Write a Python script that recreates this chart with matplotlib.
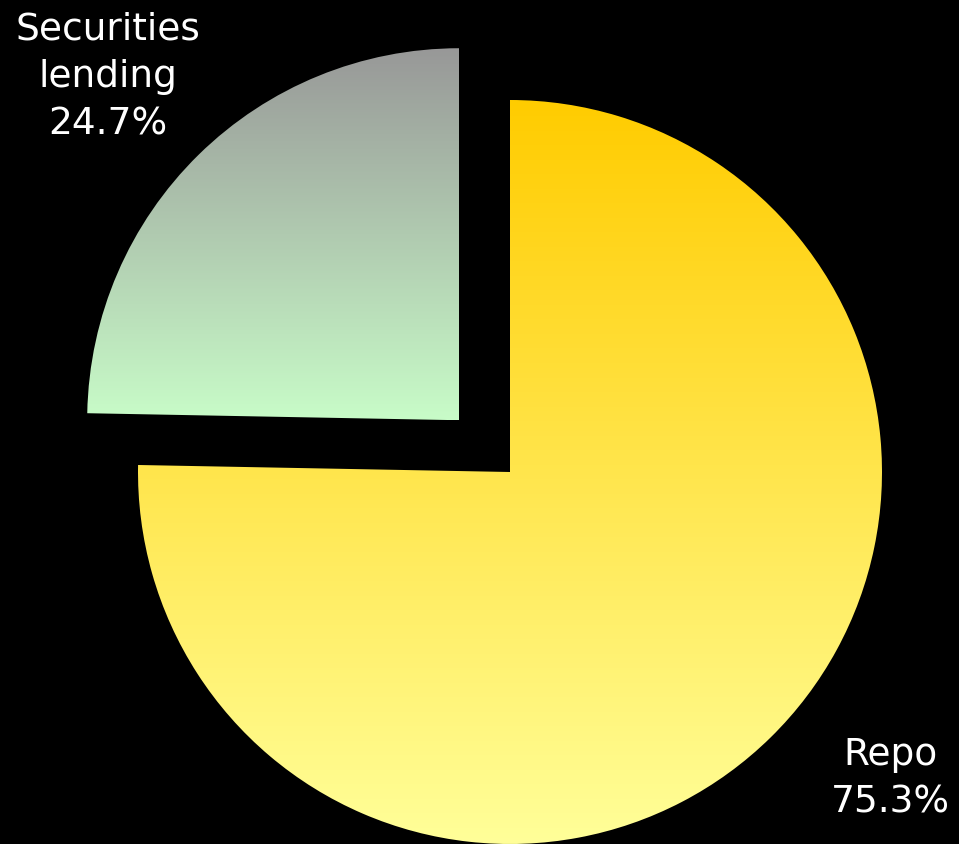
import numpy as np
import matplotlib
matplotlib.use("Agg")
import matplotlib.pyplot as plt
from matplotlib.colors import LinearSegmentedColormap

# data
categories = ["Securities\nlending", "Repo"]
shares = [24.7, 75.3]
explode = [0.195, 0.0]
# gradient colours per slice, top -> bottom
grad_colors = [("#989898", "#c8fcc8"), ("#ffcc00", "#ffff99")]

fig = plt.figure(figsize=(9.59, 8.44), dpi=100, facecolor="black")
ax = fig.add_axes([0, 0, 1, 1])
ax.set_facecolor("black")

wedges, _ = ax.pie(shares, explode=explode, startangle=90, counterclock=True,
                   radius=1.0, wedgeprops=dict(linewidth=0))

# fill each wedge with a vertical gradient clipped to its shape
for w, (c_top, c_bot) in zip(wedges, grad_colors):
    w.set_facecolor("none")
    bb = w.get_path().get_extents()
    cmap = LinearSegmentedColormap.from_list("g", [c_top, c_bot])
    grad = np.linspace(0, 1, 256).reshape(-1, 1)
    im = ax.imshow(grad, cmap=cmap, aspect="auto", origin="upper",
                   extent=[bb.x0, bb.x1, bb.y0, bb.y1], zorder=1)
    im.set_clip_path(w)

ax.set_xlim(-510 / 372, 449 / 372)
ax.set_ylim(-372 / 372, 472 / 372)
ax.set_aspect("equal")
ax.axis("off")

label_pos = [(-1.081, 1.062), (1.022, -0.825)]
for name, v, (x, y) in zip(categories, shares, label_pos):
    ax.text(x, y, f"{name}\n{v:.1f}%", color="white", fontsize=27,
            ha="center", va="center", multialignment="center",
            linespacing=1.42, family="DejaVu Sans")

fig.savefig("out.png", dpi=100, facecolor="black")
